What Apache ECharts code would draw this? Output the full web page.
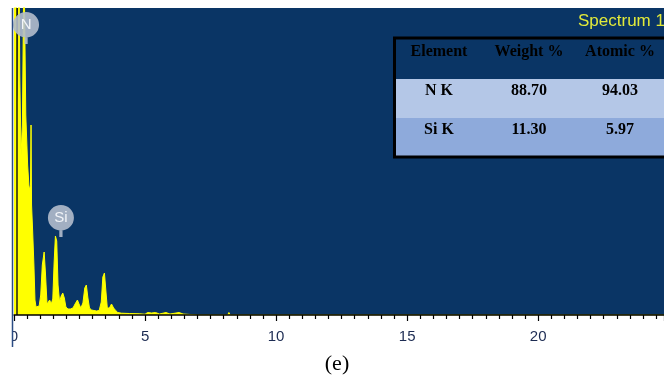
<!DOCTYPE html>
<html>
<head>
<meta charset="utf-8">
<script src="https://cdn.jsdelivr.net/npm/echarts@6/dist/echarts.min.js"></script>
<style>
  html, body { margin: 0; padding: 0; background: #ffffff; }
  #chart { width: 664px; height: 380px; }
</style>
</head>
<body>
<div id="chart"></div>
<script>
// EDS spectrum: energy (keV) and counts
const energy = [0.00, 0.09, 0.11, 0.15, 0.19, 0.22, 0.27, 0.32, 0.38, 0.41, 0.45, 0.52, 0.58, 0.63, 0.65, 0.67,
  0.71, 0.76, 0.80, 0.84, 0.90, 0.96, 1.02, 1.08, 1.15, 1.20, 1.26, 1.31, 1.36, 1.42, 1.48, 1.53, 1.58, 1.63,
  1.68, 1.74, 1.80, 1.86, 1.92, 1.98, 2.06, 2.15, 2.25, 2.33, 2.42, 2.48, 2.55, 2.63, 2.70, 2.76, 2.82, 2.88,
  2.96, 3.05, 3.15, 3.25, 3.33, 3.39, 3.45, 3.50, 3.56, 3.64, 3.72, 3.80, 3.88, 3.96, 4.10, 4.40, 4.80, 5.00,
  5.10, 5.25, 5.40, 5.55, 5.80, 5.95, 6.30, 6.45, 7.00, 8.15, 8.20, 8.25, 24.8];
const counts = [3600, 3600, 2000, 2200, 3600, 2400, 1600, 1900, 3600, 3600, 2000, 1500, 1250, 1300, 1900, 1100,
  850, 500, 150, 80, 70, 90, 200, 500, 630, 420, 110, 90, 150, 110, 160, 520, 790, 740,
  300, 130, 190, 220, 170, 80, 60, 60, 70, 110, 150, 110, 70, 120, 270, 300, 170, 70,
  50, 45, 40, 45, 130, 380, 420, 260, 70, 70, 110, 70, 45, 25, 18, 15, 12, 8,
  25, 20, 25, 10, 25, 10, 25, 10, 0, 0, 25, 0, 0];

// Element markers: name, energy position, counts position
const markerNames = ['N', 'Si'];
const markerEnergy = [0.46, 1.79];
const markerCounts = [2900, 970];

// Quantification table
const tableHeader = ['Element', 'Weight %', 'Atomic %'];
const tableElements = ['N K', 'Si K'];
const tableWeight = ['88.70', '11.30'];
const tableAtomic = ['94.03', '5.97'];

const xTicks = { min: 0, max: 24.8, interval: 5 };
const yRange = { min: 0, max: 3070 };

const plotBg = '#0a3565';
const chart = echarts.init(document.getElementById('chart'), null, { renderer: 'canvas' });

const spectrum = energy.map((e, i) => [e, counts[i]]);

const markerPath = 'path://M12,0A12,12,0,1,1,11.99,0ZM10.5,23h3v7h-3Z';

// table graphics
const colX = [439, 529, 620];
const rowY = [52, 91, 130];
const rowBg = [plotBg, '#b4c7e7', '#8eaadb'];
const rowTop = [38, 79, 118];
const rowH = [41, 39, 39];
const tableEls = [];
for (let r = 0; r < 3; r++) {
  tableEls.push({
    type: 'rect', shape: { x: 394, y: rowTop[r], width: 290, height: rowH[r] },
    style: { fill: rowBg[r] }, z: 10
  });
}
tableEls.push({
  type: 'rect', shape: { x: 394.5, y: 38, width: 290, height: 119 },
  style: { fill: null, stroke: '#000000', lineWidth: 3 }, z: 12
});
const rows = [tableHeader].concat(tableElements.map((el, i) => [el, tableWeight[i], tableAtomic[i]]));
rows.forEach((row, r) => {
  row.forEach((txt, c) => {
    tableEls.push({
      type: 'text', x: colX[c], y: rowY[r], z: 13,
      style: {
        text: txt, fill: '#000000', align: 'center', verticalAlign: 'middle',
        font: 'bold 16px "Liberation Serif", "Times New Roman", serif'
      }
    });
  });
});

chart.setOption({
  animation: false,
  backgroundColor: '#ffffff',
  grid: {
    left: 14, right: 0, top: 8, bottom: 65,
    show: true, backgroundColor: plotBg, borderWidth: 0
  },
  xAxis: {
    type: 'value', min: xTicks.min, max: xTicks.max, interval: xTicks.interval, z: 5,
    axisLine: { show: true, onZero: false, lineStyle: { color: '#000000', width: 1.5 } },
    axisTick: { show: true, length: 6, lineStyle: { color: '#000000', width: 1.2 } },
    minorTick: { show: true, splitNumber: 10, length: 4, lineStyle: { color: '#000000', width: 1.2 } },
    splitLine: { show: false },
    axisLabel: {
      showMaxLabel: false, margin: 14, color: '#1c2b52',
      fontFamily: 'Liberation Sans, Arial, sans-serif', fontSize: 15
    }
  },
  yAxis: {
    type: 'value', min: yRange.min, max: yRange.max, show: false
  },
  series: [{
    type: 'line',
    data: spectrum,
    symbol: 'none',
    clip: true,
    lineStyle: { color: '#ffff00', width: 1 },
    areaStyle: { color: '#ffff00', opacity: 1 },
    markLine: {
      silent: true, symbol: 'none', label: { show: false },
      lineStyle: { color: '#1a1a10', width: 1.5, type: 'solid' },
      data: [{ xAxis: 0.12 }]
    },
    markPoint: {
      silent: true,
      symbol: markerPath,
      symbolSize: [26, 32],
      symbolOffset: [0, 3],
      itemStyle: { color: 'rgba(178,188,204,0.9)' },
      label: {
        show: true, position: 'inside', offset: [0, -3],
        color: '#f2f4f8', fontFamily: 'Liberation Sans, Arial, sans-serif', fontSize: 15
      },
      data: markerNames.map((n, i) => ({
        name: n, coord: [markerEnergy[i], markerCounts[i]], value: n,
        label: { formatter: n }
      }))
    }
  }],
  graphic: [
    // left border and clipped edge
    { type: 'rect', shape: { x: 0, y: 316, width: 12, height: 40 }, style: { fill: '#ffffff' }, z: 20 },
    { type: 'line', shape: { x1: 12.5, y1: 8, x2: 12.5, y2: 347 }, style: { stroke: '#2b4c84', lineWidth: 1.5 }, z: 21 },
    {
      type: 'text', x: 578, y: 21, z: 14,
      style: {
        text: 'Spectrum 1', fill: '#e2ea3a', verticalAlign: 'middle',
        font: '17px "Liberation Sans", Arial, sans-serif'
      }
    },
    {
      type: 'text', x: 337, y: 364, z: 14,
      style: {
        text: '(e)', fill: '#000000', align: 'center', verticalAlign: 'middle',
        font: '22px "Liberation Serif", "Times New Roman", serif'
      }
    },
    { type: 'group', children: tableEls }
  ]
});
</script>
</body>
</html>
